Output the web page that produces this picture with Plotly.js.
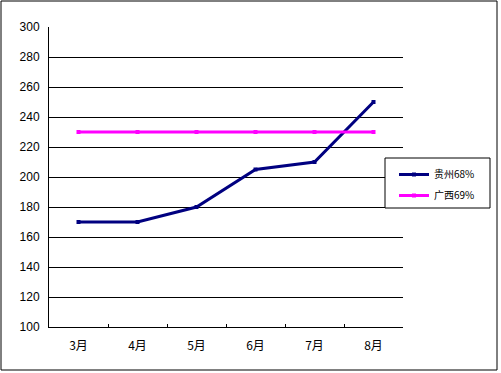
<!DOCTYPE html>
<html><head><meta charset="utf-8">
<script src="https://cdn.plot.ly/plotly-3.0.1.min.js"></script>
<style>html,body{margin:0;padding:0;background:#fff}#c{width:501px;height:373px}</style>
</head><body><div id="c"></div>
<script>
const categories = ['3月','4月','5月','6月','7月','8月'];
const guizhou = [170, 170, 180, 205, 210, 250];
const guangxi = [230, 230, 230, 230, 230, 230];
const seriesNames = ['贵州68%', '广西69%'];
const yTicks = [100,120,140,160,180,200,220,240,260,280,300];

const L=49, R=98, T=27, B=46, W=501, H=373;
const pw=W-L-R, ph=H-T-B;
const font = "SimSun, 'Noto Sans CJK SC', sans-serif";
const px = v => (v-L)/pw, py = v => (T+ph-v)/ph;

const traces = [
  {x: categories, y: guizhou, name: seriesNames[0], legendgroup:'a', type:'scatter', mode:'lines+markers',
   line:{color:'#000080', width:3}, marker:{symbol:'square', size:4, color:'#000080'}},
  {x: categories, y: guangxi, name: seriesNames[1], legendgroup:'b', type:'scatter', mode:'lines+markers',
   line:{color:'#FF00FF', width:3}, marker:{symbol:'square', size:4, color:'#FF00FF'}}
];
const layout = {
  width:W, height:H, margin:{l:L, r:R, t:T, b:B},
  paper_bgcolor:'#fff', plot_bgcolor:'#fff',
  font:{family:font, size:12, color:'#000'},
  showlegend:true,
  legend:{x:px(394), y:py(160), xanchor:'left', yanchor:'top',
    borderwidth:0, bgcolor:'rgba(0,0,0,0)', font:{size:10, family:font},
    tracegroupgap:2},
  xaxis:{type:'category', range:[-0.5,5.5], showline:true, linecolor:'#000', linewidth:1,
    ticks:'inside', tickson:'boundaries', ticklen:3, tickcolor:'#000', showgrid:false,
    zeroline:false, tickfont:{size:12}, ticklabelstandoff:8},
  yaxis:{range:[100,300], tickvals:yTicks, showline:true, linecolor:'#000', linewidth:1,
    ticks:'inside', ticklen:3, tickcolor:'#000', showgrid:true, gridcolor:'#000', gridwidth:1,
    zeroline:false, tickfont:{size:12, family:"Arial, 'Liberation Sans', sans-serif"}, ticklabelstandoff:6},
  shapes:[
    {type:'rect', xref:'paper', yref:'paper', x0:px(1), x1:px(497), y0:py(370), y1:py(1),
     line:{color:'#000', width:1}, layer:'below'},
    {type:'rect', xref:'paper', yref:'paper', x0:px(385), x1:px(490), y0:py(208), y1:py(158),
     line:{color:'#000', width:1}, fillcolor:'#fff', layer:'above'}
  ]
};
Plotly.newPlot('c', traces, layout, {staticPlot:true});
</script></body></html>
